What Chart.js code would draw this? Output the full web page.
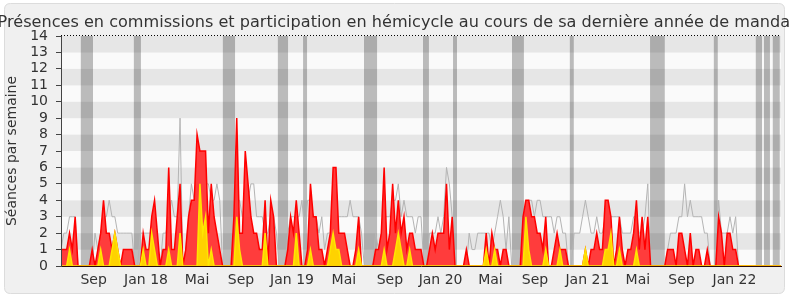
<!DOCTYPE html>
<html><head><meta charset="utf-8">
<script src="https://cdn.jsdelivr.net/npm/chart.js@4/dist/chart.umd.min.js"></script>
<style>html,body{margin:0;padding:0;background:#fff;}#wrap{width:790px;height:300px;}</style>
</head><body><div id="wrap"><canvas id="c" width="790" height="300"></canvas></div>
<script>
// Weekly values, week 0 = early June 2017
const commissions = [
1,1,1,2,1,3,0,0,0,0,
0,1,0,1,2,4,2,2,1,2,
1,0,1,1,1,1,0,0,0,2,
1,1,3,4,2,0,1,1,6,1,
1,3,5,0,1,3,4,4,8,7,
7,7,2,5,3,2,1,0,0,0,
0,3,9,2,2,7,5,3,2,2,
1,1,4,0,4,3,0,0,0,0,
1,3,2,4,2,0,0,1,5,3,
3,1,1,0,1,2,6,6,2,2,
2,1,0,0,1,3,0,0,0,0,
0,1,1,2,6,1,2,5,2,4,
2,3,1,2,2,1,1,1,0,0,
1,2,1,2,2,2,5,1,3,0,
0,0,0,1,0,0,0,0,0,0,
2,0,2,1,1,0,1,1,0,0,
0,0,0,3,4,4,3,3,2,2,
1,3,0,0,1,2,1,1,1,0,
0,0,0,0,0,1,0,1,1,2,
1,1,4,4,3,0,1,3,1,0,
1,1,2,4,1,3,1,3,0,0,
0,0,0,0,1,1,1,0,2,2,
1,0,2,0,1,1,0,0,1,0,
0,0,3,2,0,2,2,1,1,0,
0,0,0,0,0,0,0,0,0,0,
0,0,0,0,0
];
const hemicycle = [
0,0,0,1,0,0,0,0,0,0,
0,0,0,0,1,0,0,0,1,2,
1,0,0,0,0,0,0,0,0,1,
0,0,2,1,0,0,0,0,1,0,
0,0,2,0,0,0,0,0,0,5,
2,3,0,1,0,0,0,0,0,0,
0,0,3,1,0,0,0,0,0,0,
0,0,2,0,0,0,0,0,0,0,
0,0,0,2,0,0,0,0,1,0,
0,0,0,0,0,1,2,1,1,0,
0,0,0,0,0,1,0,0,0,0,
0,0,0,0,1,0,0,0,1,2,
1,0,0,1,0,0,0,0,0,0,
0,0,0,0,0,0,0,0,0,0,
0,0,0,0,0,0,0,0,0,0,
1,0,0,1,0,0,0,0,0,0,
0,0,0,0,3,1,0,0,0,0,
0,1,0,0,0,0,1,0,0,0,
0,0,0,0,0,1,0,0,0,0,
0,0,1,1,2,0,0,1,0,0,
0,0,0,1,0,0,0,0,0,0,
0,0,0,0,0,0,0,0,0,0,
0,0,0,0,0,0,0,0,0,0,
0,0,0,0,0,0,0,0,0,0,
0,0,0,0,0,0,0,0,0,0,
0,0,0,0,0
];
const median = [
1,2,2,3,3,3,0,0,0,0,
0,0,2,1,2,3,3,4,3,3,
2,2,2,2,2,2,0,0,2,2,
2,2,2,2,1,0,2,2,3,4,
3,3,9,0,1,3,5,4,5,5,
5,5,5,4,4,5,4,0,0,0,
0,2,4,4,3,4,4,5,5,3,
3,3,2,2,3,3,2,0,0,0,
2,3,3,3,3,4,2,4,4,3,
3,2,3,1,2,2,3,3,3,3,
3,3,4,3,3,3,2,0,0,0,
0,2,1,2,3,3,3,4,4,5,
3,4,3,3,3,2,3,3,0,0,
2,2,2,3,2,3,6,5,3,0,
0,0,0,0,2,1,1,2,2,2,
2,2,1,2,3,4,3,1,3,0,
0,0,0,3,3,4,4,3,4,4,
3,3,3,3,2,3,3,2,2,0,
0,2,2,2,3,4,3,2,2,3,
2,2,3,3,3,3,3,3,2,2,
2,2,3,3,2,2,3,5,0,0,
0,0,0,0,1,2,2,2,3,3,
5,3,4,3,3,3,3,2,2,0,
0,0,4,2,2,2,3,2,3,0,
0,0,0,0,0,0,0,0,0,0,
0,0,0,0,0
];
// Parliamentary holidays (start week, end week)
const vacances = [
[6.9,11.3],[25.7,28.2],[57.1,61.4],[76.5,80.1],[85.4,86.8],[106.9,111.5],
[127.7,129.8],[138.3,139.7],[159.1,163.3],[179.5,180.9],[207.8,213.0],
[230.3,231.7],[245.1,247.3],[248.0,250.1],[251.1,253.6]
];
const tickLabels = ["Sep","Jan 18","Mai","Sep","Jan 19","Mai","Sep","Jan 20","Mai","Sep","Jan 21","Mai","Sep","Jan 22"];
const tickWeeks  = [11.5,30.0,48.0,63.5,81.5,99.8,116.0,133.9,151.5,167.2,185.7,203.5,218.9,237.6];
const titleText = 'Présences en commissions et participation en hémicycle au cours de sa dernière année de mandat';
const yMax = 14;

const toPts = arr => arr.map((v,i)=>({x:i,y:v}));
const vacPts = [];
vacances.forEach(([a,b])=>{vacPts.push({x:a,y:0},{x:a,y:yMax},{x:b,y:yMax},{x:b,y:0});});

const FONT = "'DejaVu Sans', Verdana, sans-serif";
const TXT = '#333';

const deco = {
  id:'deco',
  beforeDraw(chart){
    const {ctx,width,height} = chart;
    ctx.save();
    ctx.fillStyle='#fff'; ctx.fillRect(0,0,width,height);
    const x=4.5,y=3.5,w=780,h=290,r=6;
    ctx.beginPath();
    ctx.moveTo(x+r,y); ctx.lineTo(x+w-r,y); ctx.quadraticCurveTo(x+w,y,x+w,y+r);
    ctx.lineTo(x+w,y+h-r); ctx.quadraticCurveTo(x+w,y+h,x+w-r,y+h);
    ctx.lineTo(x+r,y+h); ctx.quadraticCurveTo(x,y+h,x,y+h-r);
    ctx.lineTo(x,y+r); ctx.quadraticCurveTo(x,y,x+r,y); ctx.closePath();
    ctx.fillStyle='#f0f0f0'; ctx.fill();
    ctx.strokeStyle='#dcdcdc'; ctx.lineWidth=1; ctx.stroke();
    // title (not width-constrained, overflows the canvas like the original)
    ctx.fillStyle=TXT; ctx.font="16.1px "+FONT; ctx.textAlign='center'; ctx.textBaseline='alphabetic';
    ctx.fillText(titleText, width/2 + 2, 27);
    ctx.restore();
  },
  beforeDatasetsDraw(chart){
    const {ctx,chartArea:a,scales:{y}} = chart;
    ctx.save();
    for(let k=0;k<yMax;k++){
      const t=y.getPixelForValue(k+1), b=y.getPixelForValue(k);
      ctx.fillStyle = (k%2) ? '#e6e6e6' : '#fafafa';
      ctx.fillRect(a.left,t,a.right-a.left,b-t);
    }
    ctx.restore();
  },
  afterDraw(chart){
    const {ctx,chartArea:a} = chart;
    ctx.save();
    ctx.strokeStyle='#000'; ctx.lineWidth=1; ctx.setLineDash([1,2]);
    ctx.beginPath(); ctx.moveTo(a.left,Math.round(a.top)-0.5); ctx.lineTo(a.right,Math.round(a.top)-0.5); ctx.stroke();
    ctx.restore();
  }
};

new Chart(document.getElementById('c'),{
  type:'line',
  data:{datasets:[
    {label:'Hémicycle',data:toPts(hemicycle),order:0,fill:'origin',backgroundColor:'#ffd200',borderColor:'#ffe600',borderWidth:1.5,pointRadius:0,tension:0},
    {label:'Commissions',data:toPts(commissions),order:1,fill:'origin',backgroundColor:'#ff3c3c',borderColor:'#ff0000',borderWidth:1.5,pointRadius:0,tension:0},
    {label:'Médiane',data:toPts(median),order:2,fill:false,borderColor:'#b4b4b4',borderWidth:1,pointRadius:0,tension:0},
    {label:'Vacances',data:vacPts,order:3,fill:'origin',backgroundColor:'rgba(0,0,0,0.25)',borderWidth:0,pointRadius:0,tension:0}
  ]},
  options:{
    responsive:false, animation:false, devicePixelRatio:1,
    layout:{padding:{left:0,right:9,top:36,bottom:4}},
    plugins:{legend:{display:false}, tooltip:{enabled:false}, title:{display:false}},
    scales:{
      x:{type:'linear',min:0,max:254,
        afterBuildTicks:s=>{s.ticks=tickWeeks.map(v=>({value:v}));},
        afterFit:s=>{s.height=30;},
        ticks:{autoSkip:false,maxRotation:0,padding:6,color:TXT,font:{family:FONT,size:14},
          callback:v=>{const i=tickWeeks.indexOf(v);return i<0?'':tickLabels[i];}},
        grid:{display:false,drawTicks:false},
        border:{display:true,color:'#2a0a0a',width:1,z:1}
      },
      y:{min:0,max:yMax,
        afterFit:s=>{s.width=61;},
        ticks:{stepSize:1,autoSkip:false,padding:8,color:TXT,font:{family:FONT,size:14}},
        grid:{drawOnChartArea:false,drawTicks:true,tickLength:5,color:'#444'},
        border:{display:true,color:'#444',width:1,z:1},
        title:{display:true,text:'Séances par semaine',color:TXT,font:{family:FONT,size:14},padding:{top:4,bottom:0}}
      }
    }
  },
  plugins:[deco]
});
</script></body></html>
